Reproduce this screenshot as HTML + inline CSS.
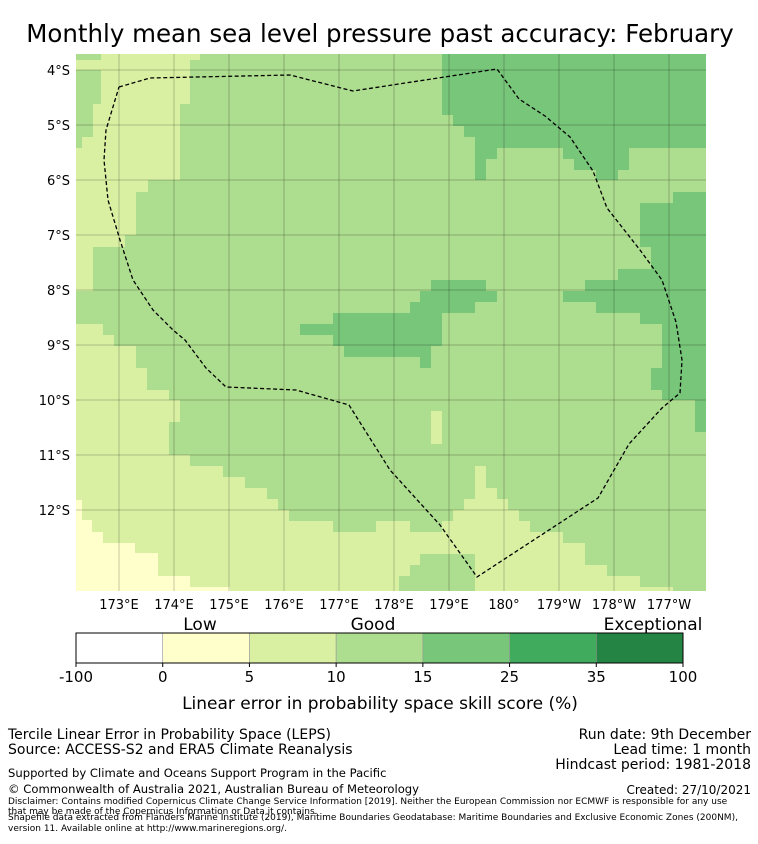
<!DOCTYPE html>
<html><head><meta charset="utf-8">
<style>
body{margin:0;background:#fff;width:758px;height:839px;overflow:hidden;font-family:"Liberation Sans","DejaVu Sans",sans-serif;}
svg text{font-family:"DejaVu Sans","Liberation Sans",sans-serif;}
</style></head>
<body>
<svg id="fig" width="758" height="839">
<text x="380" y="42" text-anchor="middle" font-size="24.5" fill="#000">Monthly mean sea level pressure past accuracy: February</text>
<defs><clipPath id="mc"><rect x="76" y="54" width="630" height="537"/></clipPath></defs>
<g clip-path="url(#mc)">
<rect x="76" y="54" width="630" height="537" fill="#addd8e"/>
<polygon fill="#d9f0a3" points="101,54 200,54 200,60 190,60 190,104 180,104 180,180 148,180 148,192 136,192 136,235 125,235 125,247 93,247 93,291 76,291 76,148 82,148 82,137 93,137 93,104 101,104 101,70 76,70 76,60 101,60"/>
<polygon fill="#d9f0a3" points="76,324 103,324 103,335 114,335 114,346 136,346 136,368 147,368 147,390 169,390 169,400 180,400 180,422 169,422 169,455 190,455 190,466 223,466 223,477 245,477 245,488 267,488 267,499 278,499 278,510 289,510 289,521 333,521 333,532 376,532 376,521 410,521 410,532 442,532 442,521 453,521 453,510 464,510 464,499 475,499 475,466 486,466 486,488 497,488 497,499 508,499 508,510 519,510 519,521 530,521 530,532 563,532 563,543 585,543 585,565 607,565 607,576 640,576 640,587 673,587 673,591 76,591"/>
<polygon fill="#addd8e" points="399,591 399,576 410,576 410,565 420,565 420,554 475,554 475,591"/>
<rect x="431" y="411" width="11" height="33" fill="#d9f0a3"/>
<polygon fill="#ffffcc" points="76,500 82,500 82,520 92,520 92,532 103,532 103,543 135,543 135,553 158,553 158,576 190,576 190,587 230,587 230,591 76,591"/>
<polygon fill="#78c679" points="442,54 706,54 706,148 629,148 629,170 618,170 618,180 596,180 596,170 574,170 574,159 563,159 563,148 497,148 497,159 486,159 486,180 475,180 475,137 464,137 464,126 453,126 453,115 442,115"/>
<polygon fill="#78c679" points="640,203 673,203 673,192 706,192 706,432 695,432 695,400 662,400 662,390 651,390 651,368 662,368 662,324 640,324 640,313 596,313 596,302 563,302 563,291 585,291 585,280 618,280 618,269 651,269 651,247 640,247"/>
<polygon fill="#78c679" points="431,280 486,280 486,291 497,291 497,302 475,302 475,313 442,313 442,346 431,346 431,368 420,368 420,357 344,357 344,346 333,346 333,335 300,335 300,324 333,324 333,313 410,313 410,302 420,302 420,291 431,291"/>
<g id="grid" stroke="#000" stroke-opacity="0.22" stroke-width="1"></g>
<polyline fill="none" stroke="#000" stroke-width="1.3" stroke-dasharray="4,2.5" points="119,87 150,78 290,75 353,91 497,69 519,99 545,116 570,137 593,171 607,208 640,250 662,280 676,322 682,360 680,393 662,408 629,444 598,498 477,577 440,525 390,470 349,405 296,390 226,387 206,368 185,340 173,330 153,310 133,280 120,240 108,200 104,160 106,130 119,87"/>
</g>
<g id="ticks"></g>
<g id="cbar"></g>
<text x="200" y="630" text-anchor="middle" font-size="17">Low</text>
<text x="373" y="630" text-anchor="middle" font-size="17">Good</text>
<text x="653" y="630" text-anchor="middle" font-size="17">Exceptional</text>
<text x="380" y="709" text-anchor="middle" font-size="17">Linear error in probability space skill score (%)</text>
<g font-size="14">
<text x="8" y="739">Tercile Linear Error in Probability Space (LEPS)</text>
<text x="8" y="754">Source: ACCESS-S2 and ERA5 Climate Reanalysis</text>
<text x="8" y="777" font-size="11.6">Supported by Climate and Oceans Support Program in the Pacific</text>
<text x="8" y="793" font-size="11.6">© Commonwealth of Australia 2021, Australian Bureau of Meteorology</text>
</g>
<g font-size="14" text-anchor="end">
<text x="751" y="739">Run date: 9th December</text>
<text x="751" y="754">Lead time: 1 month</text>
<text x="751" y="769">Hindcast period: 1981-2018</text>
<text x="751" y="794" font-size="12">Created: 27/10/2021</text>
</g>
<g font-size="9">
<text x="8" y="804">Disclaimer: Contains modified Copernicus Climate Change Service Information [2019]. Neither the European Commission nor ECMWF is responsible for any use</text>
<text x="8" y="814">that may be made of the Copernicus Information or Data it contains.</text>
<text x="8" y="820">Shapefile data extracted from Flanders Marine Institute (2019), Maritime Boundaries Geodatabase: Maritime Boundaries and Exclusive Economic Zones (200NM),</text>
<text x="8" y="831">version 11. Available online at http://www.marineregions.org/.</text>
</g>
</svg>
<script>
const lonLabels=["173°E","174°E","175°E","176°E","177°E","178°E","179°E","180°","179°W","178°W","177°W"];
const latLabels=["4°S","5°S","6°S","7°S","8°S","9°S","10°S","11°S","12°S"];
const cbTicks=["-100","0","5","10","15","25","35","100"];
const cbColors=["#ffffff","#ffffcc","#d9f0a3","#addd8e","#78c679","#41ab5d","#238443"];
const NS="http://www.w3.org/2000/svg";
function mk(t,a,p){const e=document.createElementNS(NS,t);for(const k in a)e.setAttribute(k,a[k]);p.appendChild(e);return e;}
const xLon=i=>119+55*i, yLat=i=>70+55*i;
const grid=document.getElementById('grid'), ticks=document.getElementById('ticks');
lonLabels.forEach((l,i)=>{
 const g=mk('line',{x1:xLon(i),x2:xLon(i),y1:54,y2:591},grid);
 
 
 const t=mk('text',{x:xLon(i),y:609,'text-anchor':'middle','font-size':13},ticks);
 t.textContent=l;
 
 
});
latLabels.forEach((l,i)=>{
 const g=mk('line',{x1:76,x2:706,y1:yLat(i),y2:yLat(i)},grid);
 
 
 const t=mk('text',{x:70,y:yLat(i)+5,'text-anchor':'end','font-size':13},ticks);
 t.textContent=l;
 
 
});
const cb=document.getElementById('cbar');
const cx0=76,cw=(683-76)/cbColors.length;
cbColors.forEach((c,i)=>{
 const r=mk('rect',{x:cx0+i*cw,y:633,width:cw,height:30,fill:c,stroke:'#999','stroke-width':0.6},cb);
 
 
});
mk('rect',{x:cx0,y:633,width:683-76,height:30,fill:'none',stroke:'#000','stroke-width':1},cb);
cbTicks.forEach((l,i)=>{
 mk('line',{x1:cx0+i*cw,x2:cx0+i*cw,y1:663,y2:667,stroke:'#000'},cb);
 const t=mk('text',{x:cx0+i*cw,y:682,'text-anchor':'middle','font-size':15},cb);
 t.textContent=l;
 
 
});
</script>
</body></html>
